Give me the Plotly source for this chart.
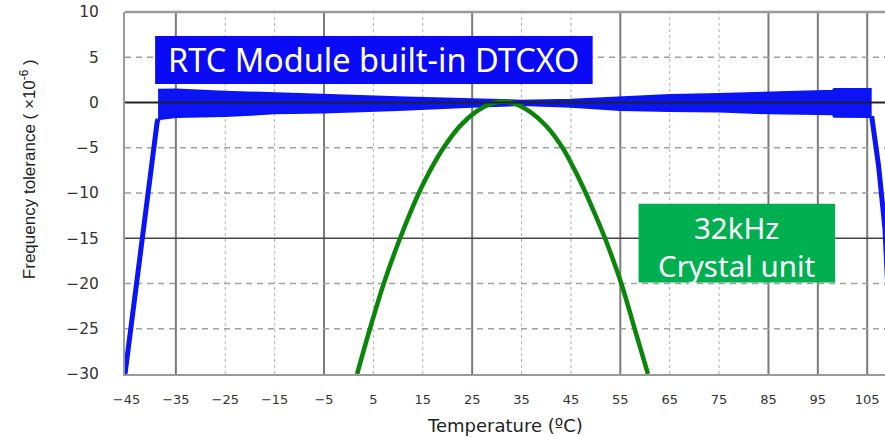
import plotly.graph_objects as go

# ---- data ----
x_ticks = [-45, -35, -25, -15, -5, 5, 15, 25, 35, 45, 55, 65, 75, 85, 95, 105]
y_ticks = [10, 5, 0, -5, -10, -15, -20, -25, -30]

# DTCXO band: upper / lower envelope
band_t = [-38.6, -35, -25, -15, -5, 10, 25, 35, 45, 55, 65, 75, 85, 95, 98.0, 98.3, 105.9]
band_up = [1.4, 1.45, 1.2, 1.0, 0.8, 0.57, 0.35, 0.2, 0.3, 0.55, 0.83, 0.94, 1.08, 1.25, 1.3, 1.5, 1.5]
band_lo = [-1.86, -1.6, -1.5, -1.2, -1.1, -0.83, -0.46, -0.28, -0.46, -0.83, -0.95, -1.0, -1.2, -1.27, -1.3, -1.57, -1.6]

# DTCXO out-of-range edges
left_t = [-45.3, -42.0, -38.8, -38.6]
left_v = [-30.0, -15.5, -2.2, -1.8]
right_t = [105.9, 107.3, 108.6, 110.0]
right_v = [-1.5, -7.0, -14.0, -30.0]

# 32 kHz crystal unit
xtal_t = [1.7, 4.3, 7.1, 10.4, 14.2, 16.5, 19.2, 22.7, 25.8, 28.5, 31.2,
          34.0, 36.7, 40.0, 43.3, 45.8, 48.0, 50.0, 51.9, 55.2, 57.9, 60.6]
xtal_v = [-30, -25, -20, -15, -10, -7.5, -5.0, -2.5, -1.0, -0.2, 0.1,
          -0.2, -1.0, -2.6, -5.0, -7.5, -10, -12.5, -15, -20, -25, -30]

solid_x = [-35, -5, 25, 55, 85, 95, 105]
dotted_x = [-25, -15, 5, 15, 35, 45, 65, 75]
dashed_y = [5, -5, -10, -20, -25]
solid_y = [-15]

X0, X1 = -45.3, 108.6
BLUE = "#0a14f5"
TXT = "#333333"

fig = go.Figure()

fig.add_trace(go.Scatter(x=band_t, y=band_up, mode="lines", line=dict(color=BLUE, width=2),
                         showlegend=False, hoverinfo="skip"))
fig.add_trace(go.Scatter(x=band_t, y=band_lo, mode="lines", line=dict(color=BLUE, width=2),
                         fill="tonexty", fillcolor=BLUE, showlegend=False, hoverinfo="skip"))
fig.add_trace(go.Scatter(x=left_t, y=left_v, mode="lines", line=dict(color=BLUE, width=5),
                         showlegend=False))
fig.add_trace(go.Scatter(x=right_t, y=right_v, mode="lines", line=dict(color=BLUE, width=5),
                         showlegend=False))
fig.add_trace(go.Scatter(x=xtal_t, y=xtal_v, mode="lines",
                         line=dict(color="#0b860b", width=4.5, shape="spline", smoothing=1.0),
                         showlegend=False))

shapes = []
for xv in solid_x:
    shapes.append(dict(type="line", xref="x", yref="y", x0=xv, x1=xv, y0=-30, y1=10,
                       line=dict(color="#7a7a7a", width=2), layer="below"))
for xv in dotted_x:
    shapes.append(dict(type="line", xref="x", yref="y", x0=xv, x1=xv, y0=-30, y1=10,
                       line=dict(color="#b0b0b0", width=1, dash="dot"), layer="below"))
for yv in dashed_y:
    shapes.append(dict(type="line", xref="x", yref="y", x0=X0, x1=X1, y0=yv, y1=yv,
                       line=dict(color="#a0a0a0", width=1.5, dash="6px,5px"), layer="below"))
for yv in solid_y:
    shapes.append(dict(type="line", xref="x", yref="y", x0=X0, x1=X1, y0=yv, y1=yv,
                       line=dict(color="#444444", width=1.5), layer="below"))
shapes.append(dict(type="line", xref="x", yref="y", x0=X0, x1=X1, y0=0, y1=0,
                   line=dict(color="#222222", width=2), layer="above"))
# top frame (paper-referenced so it is not clipped)
shapes.append(dict(type="line", xref="paper", yref="paper", x0=0, x1=1, y0=1, y1=1,
                   line=dict(color="#9a9a9a", width=2.5), layer="above"))
# label boxes
shapes.append(dict(type="rect", xref="x", yref="y", x0=-39.2, x1=49.4, y0=2.04, y1=7.35,
                   fillcolor="#0a0af5", line=dict(width=0), layer="above"))
shapes.append(dict(type="rect", xref="x", yref="y", x0=58.7, x1=98.5, y0=-19.9, y1=-11.2,
                   fillcolor="#00b050", line=dict(width=0), layer="above"))

LBL = dict(family="Noto Sans", size=32.5, color="white")
LBL2 = dict(family="Noto Sans", size=29.5, color="white")

fig.update_layout(
    width=885, height=437,
    margin=dict(l=125, r=0, t=12, b=63, autoexpand=False),
    paper_bgcolor="white", plot_bgcolor="white",
    shapes=shapes,
    xaxis=dict(range=[X0, X1], tickvals=x_ticks, showgrid=False, zeroline=False, automargin=False,
               showline=True, linecolor="#9a9a9a", linewidth=2,
               ticks="outside", ticklen=12, tickcolor="rgba(0,0,0,0)", ticklabeloverflow="allow",
               tickfont=dict(family="DejaVu Sans", size=13, color=TXT)),
    yaxis=dict(range=[-30, 10], tickvals=y_ticks, showgrid=False, zeroline=False, automargin=False,
               showline=True, linecolor="#9a9a9a", linewidth=2,
               ticks="outside", ticklen=21, tickcolor="rgba(0,0,0,0)", ticklabeloverflow="allow",
               tickfont=dict(family="DejaVu Sans", size=15.5, color=TXT)),
    annotations=[
        dict(text="Frequency tolerance ( ×10<sup>-6</sup> )", xref="paper", yref="paper",
             x=-0.1276, y=0.566, xanchor="center", yanchor="middle", textangle=-90, showarrow=False,
             font=dict(family="Liberation Sans, Arial", size=17, color="#222222")),
        dict(text="Temperature (ºC)", xref="paper", yref="paper", x=0.5, y=-0.141,
             xanchor="center", yanchor="middle",
             showarrow=False, font=dict(family="DejaVu Sans", size=18, color="#222222")),
        dict(text="RTC Module built-in DTCXO", xref="x", yref="y", x=5.1, y=4.7,
             xanchor="center", yanchor="middle", showarrow=False, font=LBL),
        dict(text="32kHz<br>Crystal unit", xref="x", yref="y", x=78.6, y=-15.9,
             xanchor="center", yanchor="middle", showarrow=False, font=LBL2),
    ],
)

# remove the default 8px page margin so the 885x437 figure fills the window exactly
fig.write_html("out.html", post_script="document.body.style.margin='0';",
               config={"displayModeBar": False})
